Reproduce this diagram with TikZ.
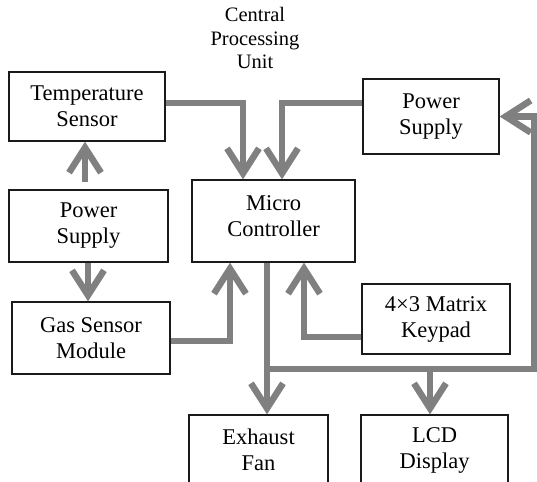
\documentclass[tikz,border=0pt]{standalone}
\usepackage{fontspec}
\setmainfont{Liberation Serif}
\usepackage{xcolor}
\usetikzlibrary{arrows.meta}
\definecolor{wiregray}{HTML}{808080}
\definecolor{boxline}{HTML}{1A1A1A}
\tikzset{
  block/.style={
    rectangle, draw=boxline, line width=1.3pt, fill=white,
    align=center, inner sep=0pt,
    font=\rmfamily\fontsize{22.5}{26}\selectfont
  },
  wire/.style={line width=6.5pt, color=wiregray, line join=miter},
  flow/.style={wire, -{Straight Barb[length=25pt,width=32pt]}},
}

\begin{document}
\begin{tikzpicture}[x=1pt,y=-1pt]
  \useasboundingbox (0,0) rectangle (537,481);

  \node[align=center, font=\rmfamily\fontsize{20.5}{23.5}\selectfont] (cpu) at (255,38) {Central\\Processing\\Unit};

  \node[block, minimum width=156pt, minimum height=69pt] (temp) at (87,106.5) {Temperature\\Sensor};
  \node[block, minimum width=136pt, minimum height=75pt] (psR) at (431,116.5) {Power\\Supply};
  \node[block, minimum width=159pt, minimum height=72pt] (psL) at (88.5,226) {Power\\Supply};
  \node[block, minimum width=163pt, minimum height=82pt, text depth=9pt] (micro) at (273.5,221) {Micro\\Controller};
  \node[block, minimum width=158pt, minimum height=72pt] (gas) at (91,338) {Gas Sensor\\Module};
  \node[block, minimum width=148pt, minimum height=70pt] (keypad) at (436,319) {4×3 Matrix\\Keypad};
  \node[block, minimum width=139pt, minimum height=70pt] (fan) at (258.5,450) {Exhaust\\Fan};
  \node[block, minimum width=147pt, minimum height=70pt] (lcd) at (434.5,450) {LCD\\Display};

  % inputs to the controller
  \draw[flow] (temp.east |- 0,103) -| (243,0 |- micro.north);
  \draw[flow] (psR.west |- 0,103) -| (282,0 |- micro.north);
  \draw[flow] (gas.east |- 0,341) -| (230,0 |- micro.south);
  \draw[flow] (keypad.west |- 0,337) -| (304,0 |- micro.south);

  % left supply
  \coordinate (psLtop) at (85,182);
  \draw[flow] (psLtop) -- (psLtop |- temp.south);
  \draw[flow] (88,0 |- psL.south) -- (88,0 |- gas.north);

  % outputs
  \coordinate (bus) at (267,369);
  \draw[flow] (bus |- micro.south) -- (bus |- fan.north);
  \draw[flow] (bus) -| (430,0 |- lcd.north);
  \draw[flow] (bus) -| (534,0 |- psR.east) -- (psR.east);
\end{tikzpicture}
\end{document}
